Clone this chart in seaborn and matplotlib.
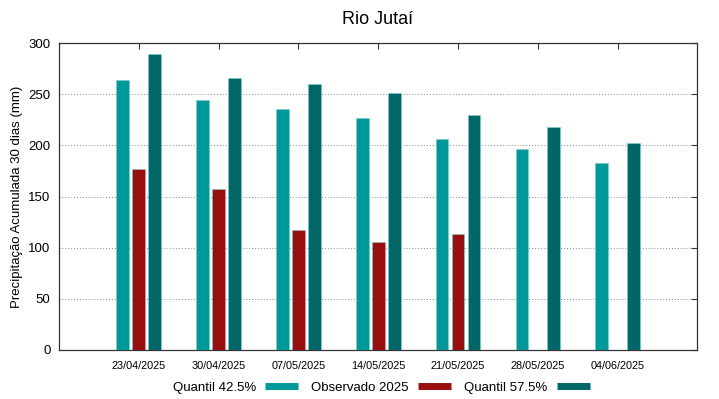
import matplotlib
matplotlib.use("Agg")
import matplotlib.pyplot as plt
from matplotlib.lines import Line2D
import seaborn as sns
import pandas as pd

# valores
datas = ["23/04/2025", "30/04/2025", "07/05/2025", "14/05/2025",
         "21/05/2025", "28/05/2025", "04/06/2025"]
quantil_425 = [264, 244, 236, 227, 206, 196, 183]
observado = [177, 157, 117, 106, 113, None, None]
quantil_575 = [289, 266, 260, 251, 230, 218, 202]

series = ["Quantil 42.5%", "Observado 2025", "Quantil 57.5%"]
cores = ["#009999", "#990f0f", "#006666"]

linhas = []
for nome, vals in zip(series, [quantil_425, observado, quantil_575]):
    for d, v in zip(datas, vals):
        if v is not None:
            linhas.append({"Data": d, "Serie": nome, "Valor": v})
df = pd.DataFrame(linhas)

sns.set_style("white")
plt.rcParams["font.family"] = ["Liberation Sans", "DejaVu Sans"]
plt.rcParams["text.color"] = "black"
plt.rcParams["axes.labelcolor"] = "black"
plt.rcParams["xtick.labelcolor"] = "black"
plt.rcParams["ytick.labelcolor"] = "black"

fig = plt.figure(figsize=(7.19, 3.99), dpi=100)
ax = fig.add_axes([0.082, 0.123, 0.887, 0.769])

sns.barplot(data=df, x="Data", y="Valor", hue="Serie", order=datas,
            hue_order=series, palette=cores, width=0.6, gap=0.2,
            errorbar=None, saturation=1, edgecolor="#7fcccc",
            linewidth=0.4, ax=ax, legend=False, zorder=3)

ax.set_xlim(-1, 6.99)
ax.set_ylim(0, 300)
ax.set_yticks(range(0, 301, 50))
ax.yaxis.grid(True, linestyle=(0, (1, 2)), color="#888888", linewidth=0.7)
ax.set_axisbelow(True)
for s in ax.spines.values():
    s.set_color("#333333")
    s.set_linewidth(0.9)
ax.tick_params(axis="both", direction="in", top=True, right=True,
               length=4, color="#333333")
ax.tick_params(axis="x", labelsize=7.8, pad=8)
ax.tick_params(axis="y", labelsize=9.5, pad=6)
ax.set_xlabel("")
ax.set_ylabel("Precipitação Acumulada 30 dias (mm)", fontsize=9.5)
ax.set_title("Rio Jutaí", fontsize=13, pad=14)

handles = [Line2D([0], [0], color=c, lw=5, solid_capstyle="butt") for c in cores]
fig.legend(handles, series, loc="center", bbox_to_anchor=(0.53, 0.028),
           ncol=3, frameon=False, markerfirst=False, fontsize=9.5,
           handlelength=2.5, columnspacing=1.0, handletextpad=0.7)

fig.savefig("out.png", dpi=100)
